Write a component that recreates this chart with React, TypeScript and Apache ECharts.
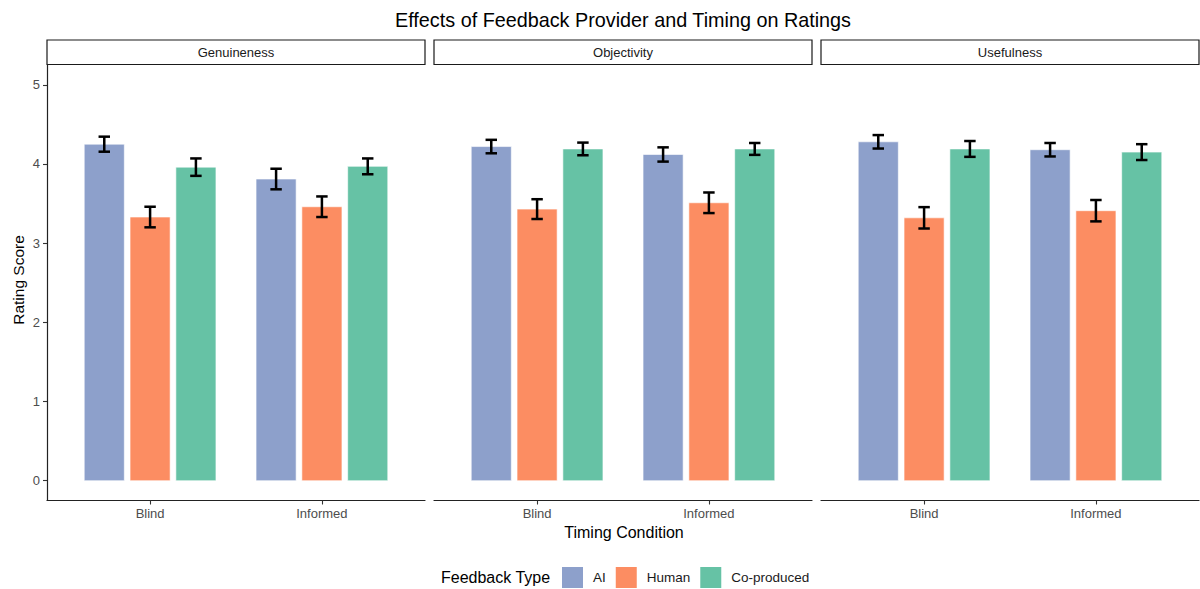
import React, { useEffect, useRef } from "react";
import * as echarts from "echarts";

// ---------- data ----------
const facets = ["Genuineness", "Objectivity", "Usefulness"];
const timing = ["Blind", "Informed"];
const feedbackTypes = ["AI", "Human", "Co-produced"];
const yTicks = [0, 1, 2, 3, 4, 5];

// mean rating per feedback type: [Blind, Informed]
const genuinenessMean = [
  [4.25, 3.81],
  [3.33, 3.46],
  [3.96, 3.97],
];
const objectivityMean = [
  [4.22, 4.12],
  [3.43, 3.51],
  [4.19, 4.19],
];
const usefulnessMean = [
  [4.28, 4.18],
  [3.32, 3.41],
  [4.19, 4.15],
];

// standard errors per feedback type: [Blind, Informed]
const genuinenessSE = [
  [0.095, 0.13],
  [0.13, 0.13],
  [0.11, 0.1],
];
const objectivitySE = [
  [0.085, 0.09],
  [0.125, 0.13],
  [0.08, 0.075],
];
const usefulnessSE = [
  [0.085, 0.085],
  [0.135, 0.135],
  [0.1, 0.1],
];

const facetMeans = [genuinenessMean, objectivityMean, usefulnessMean];
const facetSEs = [genuinenessSE, objectivitySE, usefulnessSE];

// ---------- style ----------
const COLORS = ["#8DA0CB", "#FC8D62", "#66C2A5"];
const FONT = '"Liberation Sans", Arial, Helvetica, sans-serif';
const PANEL_LEFT = 47;
const PANEL_W = 378;
const PANEL_STEP = 387;
const PLOT_TOP = 65;
const PLOT_H = 435.5;
const STRIP_TOP = 40;
const STRIP_H = 24.5;
const DODGE = 0.8 / 3;
const BAR_W = 0.7 / 3;
const CAP = 0.2 / 3;

function makeRender(j: number) {
  return (params: any, api: any) => {
    const x = api.value(0) + (j - 1) * DODGE;
    const m = api.value(1);
    const se = api.value(2);
    const bl = api.coord([x - BAR_W / 2, 0]);
    const tr = api.coord([x + BAR_W / 2, m]);
    const et = api.coord([x, m + se]);
    const eb = api.coord([x, m - se]);
    const capL = api.coord([x - CAP / 2, m])[0];
    const capR = api.coord([x + CAP / 2, m])[0];
    const lineStyle = { stroke: "#000000", lineWidth: 2.5 };
    return {
      type: "group",
      children: [
        {
          type: "rect",
          shape: { x: bl[0], y: tr[1], width: tr[0] - bl[0], height: bl[1] - tr[1] },
          style: { fill: COLORS[j], stroke: "#ffffff", lineWidth: 0.6 },
        },
        { type: "line", shape: { x1: et[0], y1: et[1], x2: eb[0], y2: eb[1] }, style: lineStyle },
        { type: "line", shape: { x1: capL, y1: et[1], x2: capR, y2: et[1] }, style: lineStyle },
        { type: "line", shape: { x1: capL, y1: eb[1], x2: capR, y2: eb[1] }, style: lineStyle },
      ],
    };
  };
}

export default function App() {
  const ref = useRef<HTMLDivElement>(null);

  useEffect(() => {
    if (!ref.current) return;
    const chart = echarts.init(ref.current, null, { renderer: "svg" });

    const grids = facets.map((_, k) => ({
      left: PANEL_LEFT + k * PANEL_STEP,
      top: PLOT_TOP,
      width: PANEL_W,
      height: PLOT_H,
      containLabel: false,
      outerBoundsMode: "none",
    }));

    const xAxes = facets.map((_, k) => ({
      type: "value",
      gridIndex: k,
      min: 0.4,
      max: 2.6,
      splitLine: { show: false },
      axisLine: { show: true, onZero: false, lineStyle: { color: "#222222", width: 1.2 } },
      axisTick: { show: true, customValues: [1, 2], length: 4, lineStyle: { color: "#333333", width: 1.1 } },
      axisLabel: {
        customValues: [1, 2],
        formatter: (v: number) => timing[Math.round(v) - 1],
        color: "#4d4d4d",
        fontSize: 13,
        fontFamily: FONT,
        margin: 6,
      },
    }));

    const yAxes = facets.map((_, k) =>
      k === 0
        ? {
            type: "value",
            gridIndex: k,
            min: -0.25,
            max: 5.25,
            splitLine: { show: false },
            axisLine: { show: true, onZero: false, lineStyle: { color: "#222222", width: 1.2 } },
            axisTick: { show: true, customValues: yTicks, length: 4, lineStyle: { color: "#333333", width: 1.1 } },
            axisLabel: {
              customValues: yTicks,
              color: "#4d4d4d",
              fontSize: 13,
              fontFamily: FONT,
              margin: 7,
            },
          }
        : {
            type: "value",
            gridIndex: k,
            min: -0.25,
            max: 5.25,
            show: false,
            splitLine: { show: false },
          }
    );

    const series: any[] = [];
    facets.forEach((_, k) => {
      feedbackTypes.forEach((name, j) => {
        series.push({
          type: "custom",
          name,
          xAxisIndex: k,
          yAxisIndex: k,
          itemStyle: { color: COLORS[j] },
          encode: { x: 0, y: 1 },
          data: timing.map((_, i) => [i + 1, facetMeans[k][j][i], facetSEs[k][j][i]]),
          renderItem: makeRender(j),
        });
      });
    });

    const graphics: any[] = [
      {
        type: "text",
        x: 623,
        y: 20,
        style: {
          text: "Effects of Feedback Provider and Timing on Ratings",
          align: "center",
          verticalAlign: "middle",
          fontSize: 19.8,
          fontFamily: FONT,
          fill: "#000000",
        },
      },
      {
        type: "text",
        x: 18,
        y: 280,
        rotation: Math.PI / 2,
        style: {
          text: "Rating Score",
          align: "center",
          verticalAlign: "middle",
          fontSize: 15.5,
          fontFamily: FONT,
          fill: "#000000",
        },
      },
      {
        type: "text",
        x: 624,
        y: 532,
        style: {
          text: "Timing Condition",
          align: "center",
          verticalAlign: "middle",
          fontSize: 16,
          fontFamily: FONT,
          fill: "#000000",
        },
      },
      {
        type: "text",
        x: 441,
        y: 577.5,
        style: {
          text: "Feedback Type",
          align: "left",
          verticalAlign: "middle",
          fontSize: 16,
          fontFamily: FONT,
          fill: "#000000",
        },
      },
    ];
    facets.forEach((f, k) => {
      const x = PANEL_LEFT + k * PANEL_STEP;
      graphics.push({
        type: "rect",
        shape: { x, y: STRIP_TOP, width: PANEL_W, height: STRIP_H },
        style: { fill: "#ffffff", stroke: "#1a1a1a", lineWidth: 1.2 },
      });
      graphics.push({
        type: "text",
        x: x + PANEL_W / 2,
        y: STRIP_TOP + STRIP_H / 2,
        style: {
          text: f,
          align: "center",
          verticalAlign: "middle",
          fontSize: 13,
          fontFamily: FONT,
          fill: "#1a1a1a",
        },
      });
    });

    chart.setOption({
      animation: false,
      backgroundColor: "#ffffff",
      grid: grids,
      xAxis: xAxes,
      yAxis: yAxes,
      legend: {
        data: feedbackTypes,
        left: 562,
        top: 567,
        padding: 0,
        itemWidth: 21,
        itemHeight: 21,
        itemGap: 10,
        icon: "rect",
        selectedMode: false,
        itemStyle: { borderWidth: 0 },
        textStyle: { fontSize: 13.5, color: "#1a1a1a", fontFamily: FONT, padding: [0, 0, 0, 5] },
      },
      graphic: graphics,
      series,
    });

    return () => chart.dispose();
  }, []);

  return (
    <div
      ref={ref}
      style={{ position: "absolute", left: 0, top: 0, width: 1200, height: 589 }}
    />
  );
}
